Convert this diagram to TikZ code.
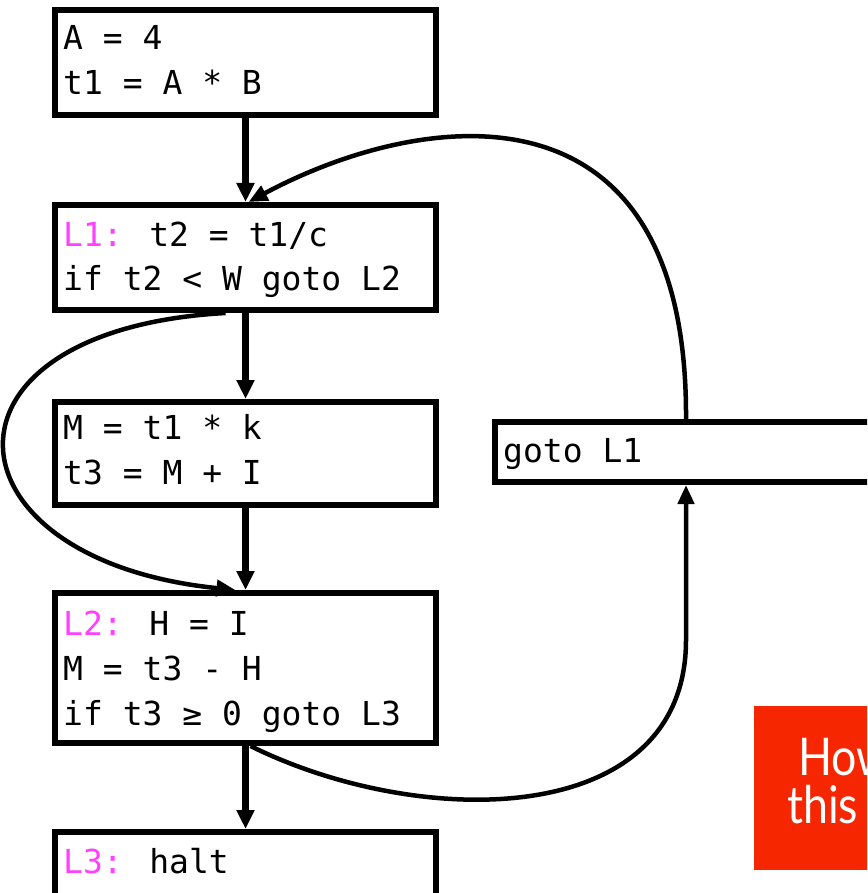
\documentclass[tikz,border=0pt]{standalone}
\usepackage{fontspec}
\newfontfamily\codefont{DejaVu Sans Mono}
\newfontfamily\redfont[FakeStretch=0.86]{Lato}
\usetikzlibrary{arrows.meta}
\definecolor{lab}{RGB}{255,64,255}
\definecolor{redbg}{RGB}{245,38,0}
\begin{document}
\begin{tikzpicture}[x=1pt,y=-1pt,
  blk/.style={draw=black,line width=6pt,minimum width=381pt,inner sep=0pt},
  code/.style={font=\fontsize{33}{40}\selectfont\codefont,anchor=base west,inner sep=0pt},
  flow/.style={line width=6.5pt,-{Triangle[length=19pt,width=17pt]}},
  back/.style={line width=4.5pt,-{Triangle[length=19pt,width=16pt]}},
  bigtxt/.style={font=\fontsize{52}{60}\selectfont\redfont,text=white,anchor=base west,inner sep=0pt}]
\useasboundingbox (0,0) rectangle (867,893);
\clip (0,0) rectangle (867,893);
\fill[white] (0,0) rectangle (867,893);

% blocks
\node[blk,minimum height=105pt] (b1) at (245.5,62.5) {};
\node[blk,minimum height=105pt] (b2) at (245.5,257.5) {};
\node[blk,minimum height=103pt] (b3) at (245.5,453.5) {};
\node[blk,minimum height=150pt] (b4) at (245.5,668) {};
\node[blk,minimum height=78pt] (b5) at (245.5,871) {};
\node[blk,minimum width=383pt,minimum height=60pt] (g) at (686,452) {};

% code text
\node[code] (t1a) at (63,50) {A = 4};
\node[code] (t1b) at (63,95) {t1 = A * B};
\node[code] (t2a) at (63,246) {\textcolor{lab}{L1:} t2 = t1/c};
\node[code] (t2b) at (63,290) {if t2 < W goto L2};
\node[code] (t3a) at (63,439) {M = t1 * k};
\node[code] (t3b) at (63,484) {t3 = M + I};
\node[code] (t4a) at (63,635) {\textcolor{lab}{L2:} H = I};
\node[code] (t4b) at (63,680) {M = t3 - H};
\node[code] (t4c) at (63,725) {if t3 ≥ 0 goto L3};
\node[code] (t5a) at (63,873) {\textcolor{lab}{L3:} halt};
\node[code] (tg) at (503,462) {goto L1};

% straight flow
\draw[flow] (b1.south) -- (b2.north);
\draw[flow] (b2.south) -- (b3.north);
\draw[flow] (b3.south) -- (b4.north);
\draw[flow] (b4.south) -- (b5.north);

% back edges
\draw[back] (g.north) .. controls (688,70) and (420,110) .. ([xshift=3pt]b2.north);
\draw[back] ([xshift=-20pt]b2.south) .. controls (-80,330) and (-60,560) .. ([xshift=-10pt]b4.north);
\draw[back] ([xshift=5pt]b4.south) .. controls (420,830) and (686,830) .. (686,640) -- (g.south);

% red box
\fill[redbg] (754,706) rectangle (900,870);
\node[bigtxt] (q1) at (798,775) {How};
\node[bigtxt] (q2) at (787,823) {this};
\end{tikzpicture}
\end{document}
